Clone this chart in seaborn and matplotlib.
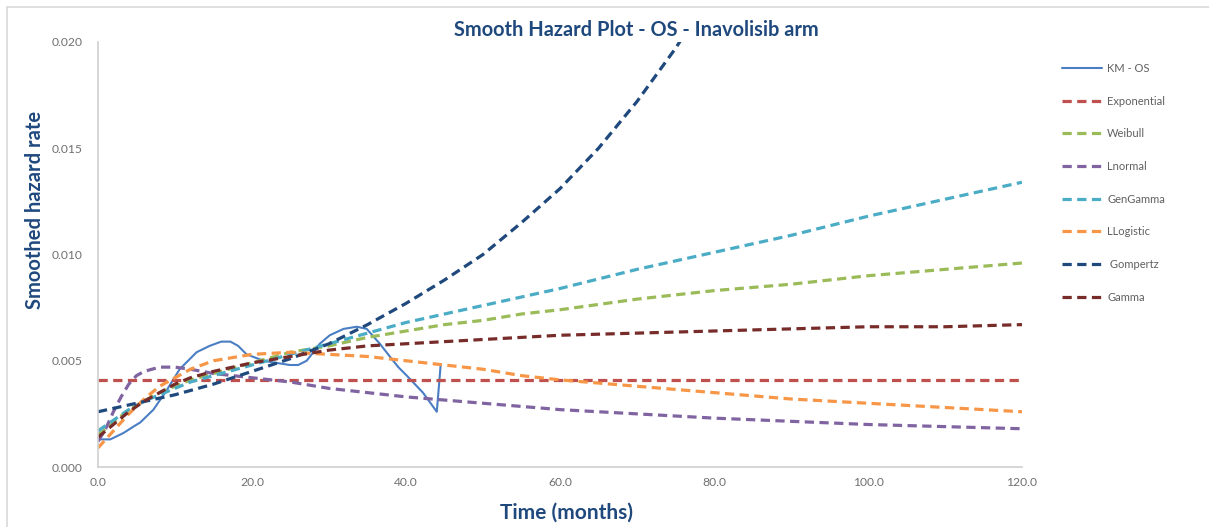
import matplotlib
matplotlib.use("Agg")
import matplotlib.pyplot as plt
from matplotlib.lines import Line2D
import seaborn as sns
import pandas as pd

# ---------------- data ----------------
km_t = [0.0, 1.6, 3.3, 4.6, 5.5, 7.2, 8.9, 10.6, 12.8, 14.5, 16.0, 17.2, 18.2, 19.3,
        21.5, 23.2, 24.9, 26.0, 27.1, 28.8, 30.1, 31.9, 33.6, 34.9, 36.6, 37.9,
        39.0, 40.1, 42.2, 44.0, 44.5]
km_v = [0.0013, 0.0013, 0.0016, 0.0019, 0.0021, 0.0027, 0.0036, 0.0046, 0.0054,
        0.0057, 0.0059, 0.0059, 0.0057, 0.0053, 0.0050, 0.0049, 0.0048, 0.0048,
        0.0050, 0.0058, 0.0062, 0.0065, 0.0066, 0.0065, 0.0058, 0.0052, 0.0047,
        0.0043, 0.0035, 0.0026, 0.0048]

exp_t = [0, 120]
exp_v = [0.0041, 0.0041]

grid_t = [0, 2, 4, 6, 8, 10, 12, 15, 20, 25, 30, 35, 40, 45, 50, 55, 60, 70, 80,
          90, 100, 110, 120]
weibull_v = [0.0015, 0.0021, 0.0027, 0.0031, 0.0035, 0.0038, 0.0041, 0.0044, 0.0049,
             0.0054, 0.0057, 0.0061, 0.0064, 0.0067, 0.0069, 0.0072, 0.0074, 0.0079,
             0.0083, 0.0086, 0.0090, 0.0093, 0.0096]
gengamma_v = [0.0017, 0.0022, 0.0027, 0.0031, 0.0034, 0.0037, 0.0040, 0.0043, 0.0048,
              0.0053, 0.0058, 0.0063, 0.0068, 0.0072, 0.0076, 0.0080, 0.0084, 0.0093,
              0.0101, 0.0109, 0.0118, 0.0126, 0.0134]
gamma_v = [0.0014, 0.0020, 0.0026, 0.0031, 0.0035, 0.0039, 0.0042, 0.0045, 0.0049,
           0.0052, 0.0055, 0.0057, 0.0058, 0.0059, 0.0060, 0.0061, 0.0062, 0.0063,
           0.0064, 0.0065, 0.0066, 0.0066, 0.0067]
llogistic_v = [0.0009, 0.0017, 0.0025, 0.0032, 0.0038, 0.0042, 0.0046, 0.0050, 0.0053,
               0.0054, 0.0053, 0.0052, 0.0050, 0.0048, 0.0046, 0.0043, 0.0041, 0.0038,
               0.0035, 0.0032, 0.0030, 0.0028, 0.0026]

lnorm_t = [0, 1, 2, 3, 4, 5, 6, 8, 10, 12, 15, 20, 25, 30, 35, 40, 45, 50, 55, 60,
           70, 80, 90, 100, 110, 120]
lnorm_v = [0.0012, 0.0018, 0.0026, 0.0033, 0.0039, 0.0043, 0.0045, 0.0047, 0.0047,
           0.0046, 0.0044, 0.0042, 0.0040, 0.0037, 0.0035, 0.0033, 0.00315, 0.0030,
           0.00285, 0.0027, 0.0025, 0.0023, 0.00215, 0.0020, 0.0019, 0.0018]

gomp_t = [0, 5, 10, 15, 20, 25, 30, 35, 40, 45, 50, 55, 60, 65, 70, 75, 80]
gomp_v = [0.0026, 0.0030, 0.0034, 0.0039, 0.0045, 0.0051, 0.0058, 0.0067, 0.0077,
          0.0088, 0.0100, 0.0115, 0.0131, 0.0150, 0.0172, 0.0197, 0.0225]

x_ticks = [0, 20, 40, 60, 80, 100, 120]
y_ticks = [0.0, 0.005, 0.010, 0.015, 0.020]

series = [
    ("KM - OS", km_t, km_v, "#4A7EC4", "-"),
    ("Exponential", exp_t, exp_v, "#C0504D", "--"),
    ("Weibull", grid_t, weibull_v, "#9BBB59", "--"),
    ("Lnormal", lnorm_t, lnorm_v, "#8064A2", "--"),
    ("GenGamma", grid_t, gengamma_v, "#4BACC6", "--"),
    ("LLogistic", grid_t, llogistic_v, "#F79646", "--"),
    (" Gompertz", gomp_t, gomp_v, "#1F497D", "--"),
    ("Gamma", grid_t, gamma_v, "#772C2A", "--"),
]

# ---------------- plotting ----------------
sns.set_theme(style="white")
plt.rcParams["font.family"] = ["Lato", "DejaVu Sans"]

fig = plt.figure(figsize=(12.09, 5.27), dpi=100)
ax = fig.add_axes([98 / 1209, 1 - 467 / 527, (1022 - 98) / 1209, (467 - 42) / 527])

DASH = (2.9, 1.7)
handles = []
for name, t, v, color, ls in series:
    df = pd.DataFrame({"t": t, "v": v})
    if ls == "-":
        sns.lineplot(data=df, x="t", y="v", ax=ax, color=color, lw=1.5,
                     estimator=None, sort=False)
        handles.append(Line2D([], [], color=color, lw=1.5, label=name))
    else:
        sns.lineplot(data=df, x="t", y="v", ax=ax, color=color, lw=2.3,
                     estimator=None, sort=False, dashes=False)
        ax.lines[-1].set_dashes(DASH)
        handles.append(Line2D([], [], color=color, lw=2.3, dashes=DASH, label=name))

ax.set_xlim(0, 120)
ax.set_ylim(0, 0.020)
ax.set_xticks(x_ticks)
ax.set_xticklabels([f"{x:.1f}" for x in x_ticks])
ax.set_yticks(y_ticks)
ax.set_yticklabels([f"{y:.3f}" for y in y_ticks])
ax.tick_params(axis="both", length=0, labelsize=8.7, colors="#707070")
ax.tick_params(axis="y", pad=11)
ax.tick_params(axis="x", pad=7)

for s in ["top", "right"]:
    ax.spines[s].set_visible(False)
for s in ["left", "bottom"]:
    ax.spines[s].set_color("#D0D0D0")
    ax.spines[s].set_linewidth(1.2)

ax.set_xlabel("Time (months)", fontsize=15, fontweight="bold", color="#1F497D")
ax.xaxis.set_label_coords((567 - 98) / 924, (467 - 513) / 425)
ax.xaxis.label.set_va("center")
ax.set_ylabel("Smoothed hazard rate", fontsize=14.5, fontweight="bold",
              color="#1F497D")
ax.yaxis.set_label_coords((35 - 98) / 924, (467 - 210) / 425)
ax.yaxis.label.set_va("center")
fig.text(636 / 1209, 1 - 30 / 527, "Smooth Hazard Plot - OS - Inavolisib arm",
         ha="center", va="center", fontsize=14.4, fontweight="bold", color="#1F497D")

leg = fig.legend(handles=handles, loc="upper left",
                 bbox_to_anchor=(1062 / 1209, 1 - 63 / 527),
                 frameon=False, fontsize=8, handlelength=3.6, handletextpad=0.45,
                 labelspacing=1.95, borderpad=0, borderaxespad=0)
for txt in leg.get_texts():
    txt.set_color("#606060")

# figure frame (top and left light gray lines)
fig.add_artist(Line2D([7 / 1209, 7 / 1209], [0, 1 - 7 / 527], transform=fig.transFigure,
                      color="#D9D9D9", lw=1.2))
fig.add_artist(Line2D([7 / 1209, 1], [1 - 7 / 527, 1 - 7 / 527],
                      transform=fig.transFigure, color="#D9D9D9", lw=1.2))

fig.savefig("out.png", dpi=100)
